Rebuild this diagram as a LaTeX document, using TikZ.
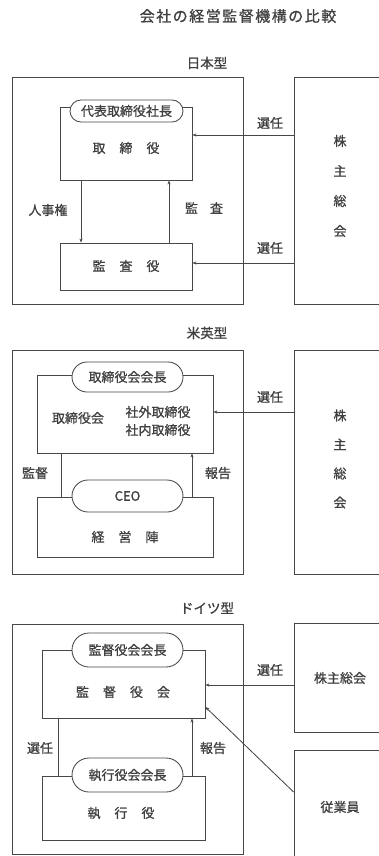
\documentclass[tikz,border=0pt]{standalone}
\usepackage{fontspec}
\setmainfont{Noto Sans CJK JP}[FakeBold=0.9]
\usetikzlibrary{arrows.meta,shapes.misc}
\newcommand\gapj{\hspace{14pt}}
\tikzset{
  ln/.style={draw=black!72, line width=0.85pt},
  box/.style={ln, rectangle, inner sep=0pt},
  pill/.style={ln, rounded rectangle, fill=white, inner sep=0pt, text=black!75, font=\fontsize{13}{15}\selectfont},
  txt/.style={text=black!75, inner sep=0pt, font=\fontsize{13}{15}\selectfont},
  vtxt/.style={txt, align=center},
  head/.style={txt, font=\fontsize{13.5}{15}\selectfont},
  arr/.style={ln, -{Stealth[length=4pt,width=3.2pt]}},
}
\begin{document}
\begin{tikzpicture}[x=1pt,y=-1pt]
\path[use as bounding box] (0,0) rectangle (379,856);
\clip (0,0) rectangle (379,856);

% title
\node[txt, font=\fontsize{15}{17}\selectfont\addfontfeature{LetterSpace=10}] (title) at (238,16) {会社の経営監督機構の比較};

% ---------------- Japan ----------------
\node[head] (jphead) at (207,63) {日本型};
\node[box, minimum width=231, minimum height=227] (jpout) at (127.5,190.5) {};
\node[box, minimum width=91, minimum height=227] (jpsh) at (339.5,190.5) {};
\node[vtxt, font=\fontsize{13}{30}\selectfont] (jpshtxt) at (340,186) {株\\主\\総\\会};
\node[box, minimum width=132, minimum height=73] (jptor) at (126,143.5) {};
\node[txt] (jptortxt) at (126,148) {取\gapj 締\gapj 役};
\node[pill, minimum width=113, minimum height=22] (jppill) at (126.5,111) {代表取締役社長};
\node[box, minimum width=132, minimum height=47] (jpkan) at (126,266.5) {};
\node[txt] (jpkantxt) at (126,266) {監\gapj 査\gapj 役};
\draw[arr] (jpsh.west |- 0,135) -- (jptor.east |- 0,135);
\draw[arr] (jpsh.west |- 0,263) -- (jpkan.east |- 0,263);
\node[txt] (jpsen1) at (270,123) {選任};
\node[txt] (jpsen2) at (270,248) {選任};
\draw[arr] (jptor.south -| 81,0) -- (jpkan.north -| 81,0);
\draw[arr] (jpkan.north -| 169,0) -- (jptor.south -| 169,0);
\node[txt] (jpjinji) at (48,210) {人事権};
\node[txt] (jpkansa) at (204,208) {監\hspace{12pt}査};

% ---------------- US/UK ----------------
\node[head] (ushead) at (207,333) {米英型};
\node[box, minimum width=231, minimum height=224] (usout) at (127.5,462) {};
\node[box, minimum width=91, minimum height=224] (ussh) at (339.5,462) {};
\node[vtxt, font=\fontsize{13}{29}\selectfont] (usshtxt) at (340,459) {株\\主\\総\\会};
\node[box, minimum width=176, minimum height=78] (usbd) at (125,414) {};
\node[pill, minimum width=111, minimum height=30] (uspill) at (127.5,377) {取締役会会長};
\node[txt] (usbdtxt) at (78,418) {取締役会};
\node[txt] (usout1) at (158,412) {社外取締役};
\node[txt] (usin1) at (158,430) {社内取締役};
\draw[arr] (ussh.west |- 0,412) -- (usbd.east |- 0,412);
\node[txt] (ussen) at (270,397) {選任};
\node[box, minimum width=176, minimum height=60] (usmg) at (125,527) {};
\node[txt] (usmgtxt) at (125,537) {経\gapj 営\gapj 陣};
\node[pill, minimum width=111, minimum height=32] (usceo) at (127.5,496) {CEO};
\draw[ln] (usbd.south -| 61,0) -- (usmg.north -| 61,0);
\draw[arr] (usmg.north -| 192,0) -- (usbd.south -| 192,0);
\node[txt] (uskan) at (35,473) {監督};
\node[txt] (ushou) at (218,473) {報告};

% ---------------- Germany ----------------
\node[head] (dehead) at (207,608) {ドイツ型};
\node[box, minimum width=231, minimum height=230] (deout) at (127.5,739) {};
\node[box, minimum width=91, minimum height=109] (desh) at (339.5,677.5) {};
\node[txt] (deshtxt) at (340,678) {株主総会};
\node[box, minimum width=91, minimum height=112] (deemp) at (339.5,806) {};
\node[txt] (deemptxt) at (340,807) {従業員};
\node[box, minimum width=163, minimum height=68] (desv) at (123.5,684) {};
\node[txt] (desvtxt) at (123,692) {監\gapj 督\gapj 役\gapj 会};
\node[pill, minimum width=111, minimum height=34] (desvpill) at (127.5,650) {監督役会会長};
\node[box, minimum width=163, minimum height=64] (deex) at (123.5,808) {};
\node[txt] (deextxt) at (121,813) {執\gapj 行\gapj 役};
\node[pill, minimum width=111, minimum height=34] (deexpill) at (127.5,775) {執行役会会長};
\draw[arr] (desh.west |- 0,685) -- (desv.east |- 0,685);
\node[txt] (desen) at (270,670) {選任};
\draw[arr] (deemp.west |- 0,792) -- (desv.east |- 0,707);
\draw[ln] (desv.south -| 58,0) -- (deex.north -| 58,0);
\draw[arr] (deex.north -| 192,0) -- (desv.south -| 192,0);
\node[txt] (desen2) at (40,748) {選任};
\node[txt] (dehou) at (213,748) {報告};
\end{tikzpicture}
\end{document}
